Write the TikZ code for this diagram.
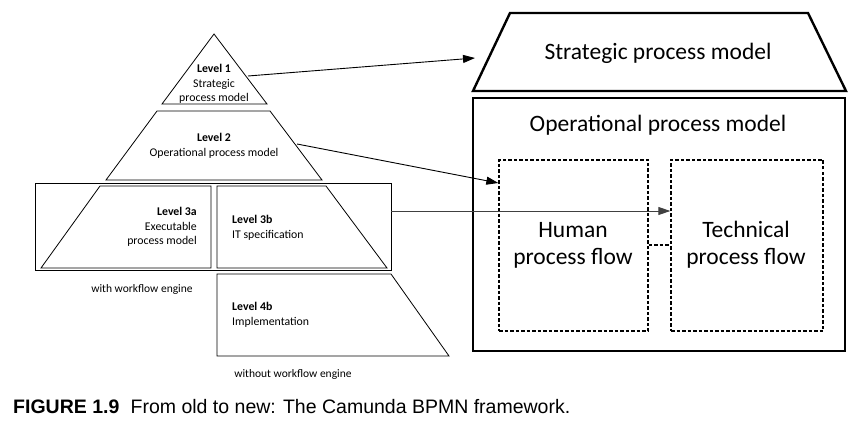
\documentclass[tikz,border=0pt]{standalone}
\usepackage{fontspec}
\setmainfont{Carlito}
\newfontfamily\capfont{Liberation Sans}
\usetikzlibrary{arrows.meta}
\begin{document}
\begin{tikzpicture}[x=1pt,y=-1pt,
  thinline/.style={draw=black,line width=0.8pt,line join=miter},
  thickline/.style={draw=black,line width=2.4pt,line join=miter},
  dashbox/.style={draw=black,line width=1.3pt,dash pattern=on 3.5pt off 2pt},
  arr/.style={-{Triangle[length=12pt,width=8pt]},line width=0.9pt},
  small/.style={font=\fontsize{11.8}{14.5}\selectfont,align=center,inner sep=0pt},
  big/.style={font=\fontsize{23.5}{27}\selectfont,align=center,inner sep=0pt},
  note/.style={font=\fontsize{11.5}{13}\selectfont,inner sep=0pt}]
\useasboundingbox (0,0) rectangle (861,422);
% ---------- pyramid ----------
\draw[thinline] (214,34) -- (162,104) -- (267,104) -- cycle;
\node[small] (l1) at (214,84) {\textbf{Level 1}\\Strategic\\process model};
\draw[thinline] (157,111) -- (270,111) -- (322,180) -- (106,180) -- cycle;
\node[small] (l2) at (214,146) {\textbf{Level 2}\\Operational process model};
\draw[thinline] (35,183) rectangle (391,270);
\draw[thinline] (100,186) -- (211,186) -- (211,268) -- (41,268) -- cycle;
\node[small,align=right,anchor=east] (l3a) at (197,227) {\textbf{Level 3a}\\Executable\\process model};
\draw[thinline] (217,186) -- (326,186) -- (387,268) -- (217,268) -- cycle;
\node[small,align=left,anchor=west] (l3b) at (232,228) {\textbf{Level 3b}\\IT specification};
\node[note] (wwe) at (142,289) {with workflow engine};
\draw[thinline] (217,274) -- (391,274) -- (449,356) -- (217,356) -- cycle;
\node[small,align=left,anchor=west] (l4b) at (232,315) {\textbf{Level 4b}\\Implementation};
\node[note] (wowe) at (293,374) {without workflow engine};
% ---------- right model ----------
\draw[thickline] (510,13) -- (808,13) -- (846,91) -- (473,91) -- cycle;
\node[big] (spm) at (658,53) {Strategic process model};
\draw[thickline] (473,98) rectangle (845,351);
\node[big] (opm) at (658,125) {Operational process model};
\node[dashbox,minimum width=149pt,minimum height=171pt,inner sep=0pt] (human) at (573.5,245.5) {};
\node[big] at (573,245) {Human\\process flow};
\node[dashbox,minimum width=152pt,minimum height=171pt,inner sep=0pt] (tech) at (747,245.5) {};
\node[big] at (746,245) {Technical\\process flow};
\draw[dashbox] (human.east |- 0,245) -- (tech.west |- 0,245);
% ---------- connectors ----------
\coordinate (a1s) at (248,76);
\coordinate (a1e) at (475,58);
\coordinate (a2s) at (297,144);
\coordinate (a2e) at (human.west |- 0,183);
\coordinate (a3s) at (391,211);
\coordinate (a3e) at (tech.west |- 0,211);
\draw[arr] (a1s) -- (a1e);
\draw[arr] (a2s) -- (a2e);
\draw[arr,draw=black!75] (a3s) -- (a3e);
% ---------- caption ----------
\node[anchor=west,inner sep=0pt,font=\capfont\fontsize{19.5}{22}\selectfont] (cap) at (13,407) {\textbf{FIGURE 1.9}\hspace{0.3em} From old to new: The Camunda BPMN framework.};
\end{tikzpicture}
\end{document}
